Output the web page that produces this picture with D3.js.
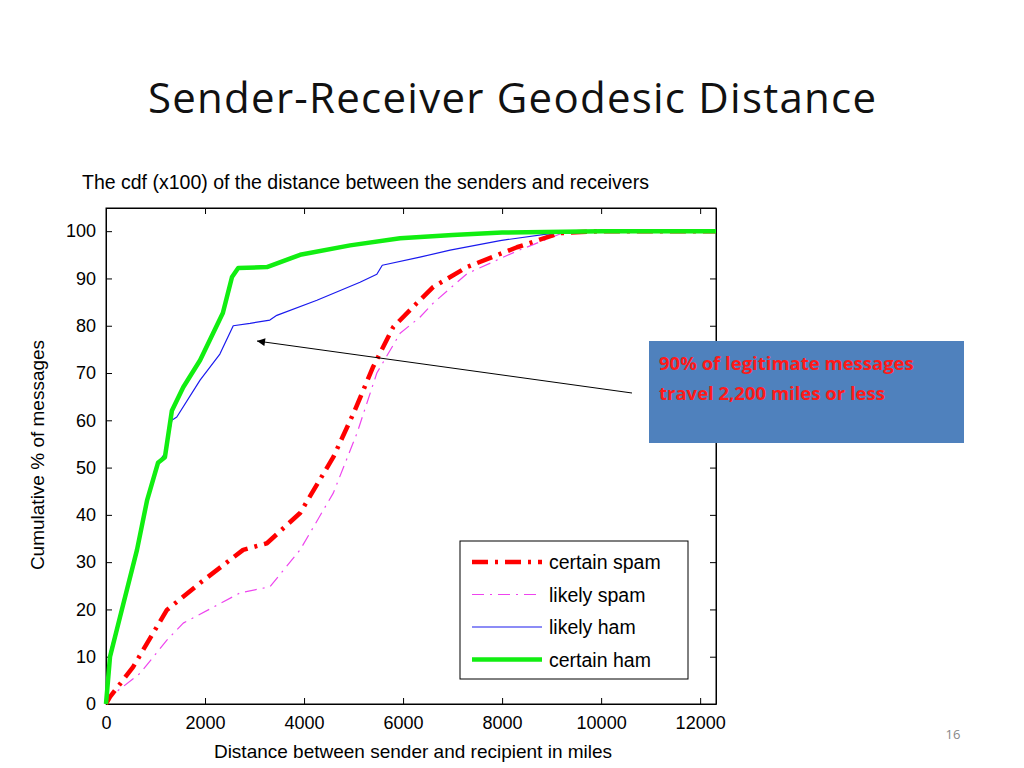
<!DOCTYPE html>
<html><head><meta charset="utf-8">
<script src="https://cdn.jsdelivr.net/npm/d3@7"></script>
<style>body{margin:0;background:#fff}</style></head>
<body><svg id="c" width="1024" height="768"></svg>
<script>
// data: [distance in miles, cumulative %]
var certainHam = [[0,0],[81,10],[283,18.4],[626,32.6],[828,43],[1050,51],[1190,52.2],[1330,62],[1560,67],[1900,72.7],[2360,82.7],[2545,90.3],[2670,92.2],[3250,92.4],[3920,95],[4930,97],[5940,98.5],[7000,99.2],[8000,99.7],[10000,100],[12320,100]];
var likelyHam = [[0,0],[81,11],[283,19],[626,33],[828,43.5],[1050,51],[1190,53],[1330,60],[1430,60.7],[1900,68.5],[2300,74],[2570,80],[2910,80.5],[3310,81.2],[3450,82.2],[4260,85.4],[5130,89.2],[5470,90.9],[5580,92.8],[6340,94.5],[6950,96],[7960,98],[8970,99.5],[10000,99.9],[12320,100]];
var certainSpam = [[0,0],[81,1.5],[545,7.8],[1230,19.9],[1900,25.6],[2770,32.6],[3250,34],[3920,40.4],[4590,52.2],[5000,61.5],[5390,71.2],[5800,79.7],[6280,84.8],[6610,88.2],[7290,92.4],[8300,96.6],[9170,99.6],[10000,100],[12320,100]];
var likelySpam = [[0,0],[81,1.5],[690,6.5],[1230,13.5],[1560,17.1],[2710,23.5],[3310,24.8],[3920,32.6],[4590,44.6],[5070,57.3],[5470,70],[5940,78.4],[6340,81.8],[6610,84.8],[7290,91],[8300,95.8],[9170,99.4],[10000,100],[12320,100]];
var seriesNames = ["certain spam","likely spam","likely ham","certain ham"];
var xTicks = [0,2000,4000,6000,8000,10000,12000];
var yTicks = [0,10,20,30,40,50,60,70,80,90,100];

var svg = d3.select("#c");
var pLeft = 106, pRight = 716, pTop = 208, pBottom = 704;
var x = d3.scaleLinear().domain([0,12320]).range([pLeft,pRight]);
var y = d3.scaleLinear().domain([0,104.9]).range([pBottom,pTop]);

svg.append("text").attr("x",148).attr("y",113).attr("font-family","Open Sans").attr("font-size",42).attr("fill","#111").attr("textLength",728).text("Sender-Receiver Geodesic Distance");
svg.append("text").attr("x",82).attr("y",189).attr("font-family","Liberation Sans").attr("font-size",19.5).text("The cdf (x100) of the distance between the senders and receivers");

// axes with inward ticks on all four sides
var fnt = "Liberation Sans";
svg.append("g").attr("transform","translate(0,"+pBottom+")").call(d3.axisBottom(x).tickValues(xTicks).tickSizeInner(-6).tickSizeOuter(0).tickPadding(12).tickFormat(d3.format("d")));
svg.append("g").attr("transform","translate(0,"+pTop+")").call(d3.axisTop(x).tickValues(xTicks).tickSizeInner(-6).tickSizeOuter(0).tickFormat(""));
svg.append("g").attr("transform","translate("+pLeft+",0)").call(d3.axisLeft(y).tickValues(yTicks).tickSizeInner(-6).tickSizeOuter(0).tickPadding(10));
svg.append("g").attr("transform","translate("+pRight+",0)").call(d3.axisRight(y).tickValues(yTicks).tickSizeInner(-6).tickSizeOuter(0).tickFormat(""));
svg.selectAll(".tick text").attr("font-family",fnt).attr("font-size",18).attr("fill","#000");
svg.selectAll(".domain").attr("stroke","#000");
svg.append("rect").attr("x",pLeft).attr("y",pTop).attr("width",pRight-pLeft).attr("height",pBottom-pTop).attr("fill","none").attr("stroke","#000");

svg.append("text").attr("x",413).attr("y",758).attr("text-anchor","middle").attr("font-family",fnt).attr("font-size",19).text("Distance between sender and recipient in miles");
svg.append("text").attr("transform","translate(44,455) rotate(-90)").attr("text-anchor","middle").attr("font-family",fnt).attr("font-size",19).text("Cumulative % of messages");

var styles = [
  {data:certainSpam,color:"#ff0000",w:4.5,dash:"16,7,3,7"},
  {data:likelySpam,color:"#ee44ee",w:1.2,dash:"12,6,2,6"},
  {data:likelyHam,color:"#1a1aee",w:1.2,dash:null},
  {data:certainHam,color:"#11ee11",w:4.5,dash:null}
];
var line = d3.line().x(d=>x(d[0])).y(d=>y(d[1]));
var plot = svg.append("g");
[1,0,2,3].forEach(function(i){
  var s = styles[i];
  plot.append("path").attr("d",line(s.data)).attr("fill","none").attr("stroke",s.color).attr("stroke-width",s.w).attr("stroke-dasharray",s.dash).attr("stroke-linejoin","round");
});

// legend
var lg = svg.append("g");
lg.append("rect").attr("x",460).attr("y",541).attr("width",228).attr("height",138).attr("fill","#fff").attr("stroke","#000");
seriesNames.forEach(function(n,i){
  var yy = 562 + i*32.5, s = styles[i];
  lg.append("line").attr("x1",472).attr("x2",542).attr("y1",yy).attr("y2",yy).attr("stroke",s.color).attr("stroke-width",s.w).attr("stroke-dasharray",s.dash);
  lg.append("text").attr("x",549).attr("y",yy+7).attr("font-family",fnt).attr("font-size",19.5).text(n);
});

// callout
svg.append("defs").append("marker").attr("id","ah").attr("viewBox","0 0 10 10").attr("refX",10).attr("refY",5).attr("markerWidth",10).attr("markerHeight",8).attr("orient","auto").attr("markerUnits","userSpaceOnUse")
  .append("path").attr("d","M0,0L10,5L0,10z").attr("fill","#000");
svg.append("line").attr("x1",632).attr("y1",393).attr("x2",257).attr("y2",341).attr("stroke","#000").attr("stroke-width",1).attr("marker-end","url(#ah)");
svg.append("rect").attr("x",649).attr("y",341).attr("width",315).attr("height",102).attr("fill","#4f81bd");
svg.append("text").attr("x",659).attr("y",370).attr("font-family","Open Sans").attr("font-weight","bold").attr("font-size",18.5).attr("fill","#ff1a1a").text("90% of legitimate messages");
svg.append("text").attr("x",659).attr("y",400).attr("font-family","Open Sans").attr("font-weight","bold").attr("font-size",18.5).attr("fill","#ff1a1a").text("travel 2,200 miles or less");
svg.append("text").attr("x",953).attr("y",739).attr("text-anchor","middle").attr("font-family","Open Sans").attr("font-size",13).attr("fill","#888").text("16");
</script></body></html>
